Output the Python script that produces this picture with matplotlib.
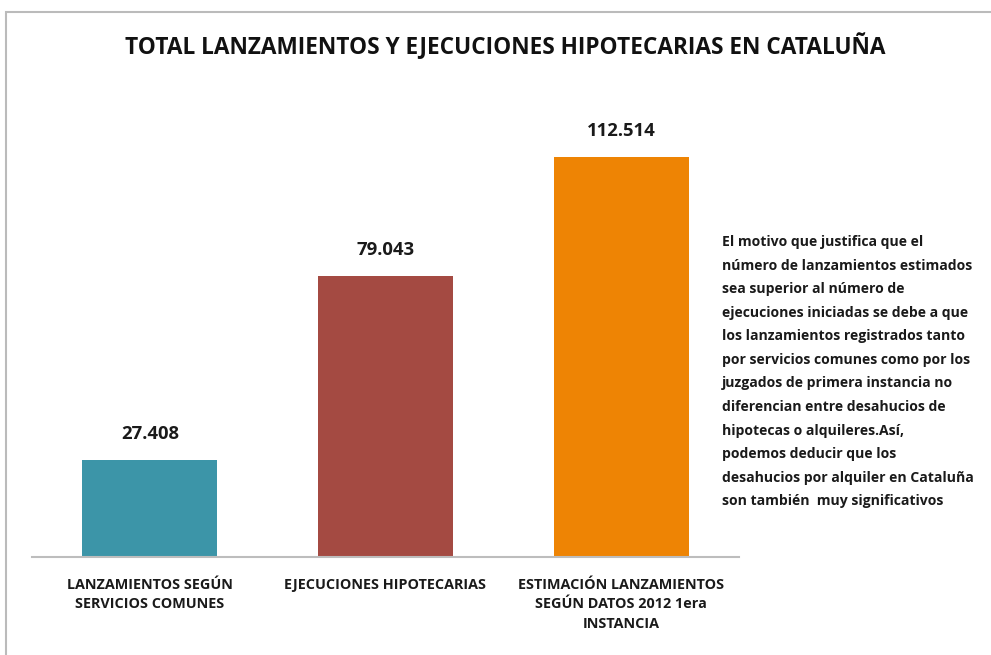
import matplotlib
matplotlib.use("Agg")
import matplotlib.pyplot as plt
from matplotlib.patches import Rectangle

categories = ["LANZAMIENTOS SEGÚN\nSERVICIOS COMUNES",
              "EJECUCIONES HIPOTECARIAS",
              "ESTIMACIÓN LANZAMIENTOS\nSEGÚN DATOS 2012 1era\nINSTANCIA"]
values = [27408, 79043, 112514]
value_labels = ["27.408", "79.043", "112.514"]
colors = ["#3C95A8", "#A44A42", "#EE8404"]
title = "TOTAL LANZAMIENTOS Y EJECUCIONES HIPOTECARIAS EN CATALUÑA"
note = ("El motivo que justifica que el\n"
        "número de lanzamientos estimados\n"
        "sea superior al número de\n"
        "ejecuciones iniciadas se debe a que\n"
        "los lanzamientos registrados tanto\n"
        "por servicios comunes como por los\n"
        "juzgados de primera instancia no\n"
        "diferencian entre desahucios de\n"
        "hipotecas o alquileres.Así,\n"
        "podemos deducir que los\n"
        "desahucios por alquiler en Cataluña\n"
        "son también  muy significativos")

W, H = 991, 655
fig = plt.figure(figsize=(W / 100, H / 100), dpi=100)
fam = ["Open Sans", "DejaVu Sans"]

# border
fig.patches.append(Rectangle((6 / W, -0.1), 1.2, (H - 12) / H + 0.1,
                             transform=fig.transFigure, fill=False,
                             edgecolor="#BBBBBB", linewidth=1.5))

ax_left, ax_right = 32, 739
ax_bottom, ax_top = 557, 113
ax = fig.add_axes([ax_left / W, 1 - ax_bottom / H,
                   (ax_right - ax_left) / W, (ax_bottom - ax_top) / H])
ymax = 112514 * (ax_bottom - ax_top) / 400
x = list(range(len(values)))
bars = ax.bar(x, values, width=0.573, color=colors)
ax.set_xlim(-0.5, 2.5)
ax.set_ylim(0, ymax)
for s in ["top", "right", "left"]:
    ax.spines[s].set_visible(False)
ax.spines["bottom"].set_color("#BDBDBD")
ax.spines["bottom"].set_linewidth(1.5)
ax.set_yticks([])
ax.set_xticks(x)
ax.set_xticklabels(categories, fontsize=10.4, fontweight="bold", family=fam,
                   color="#1a1a1a", linespacing=1.5)
ax.tick_params(axis="x", length=0, pad=15)
for xi, v, lab in zip(x, values, value_labels):
    ax.annotate(lab, (xi, v), xytext=(0, 12), textcoords="offset points",
                ha="center", va="bottom", fontsize=13.3, fontweight="bold",
                family=fam, color="#1a1a1a")

fig.text(505 / W, 1 - 47 / H, title, ha="center", va="center",
         fontsize=16.3, fontweight="bold", family=fam, color="#111111")
fig.text(722 / W, 1 - 235 / H, note, ha="left", va="top", fontsize=10.1,
         fontweight="bold", family=fam, color="#1a1a1a", linespacing=1.87)

fig.savefig("out.png", dpi=100)
